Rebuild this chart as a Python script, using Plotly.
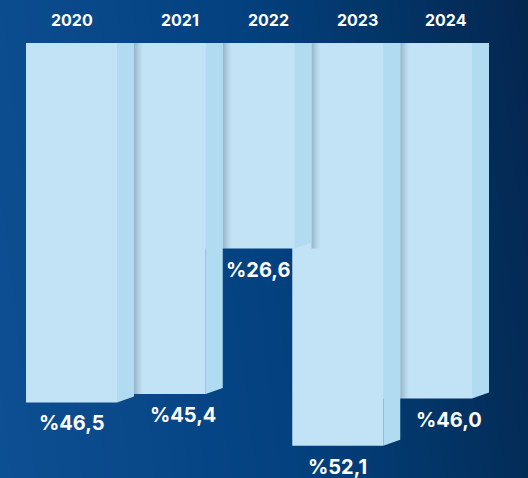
import numpy as np
import plotly.graph_objects as go

# ---- data ----
years = ["2020", "2021", "2022", "2023", "2024"]
values = [46.5, 45.4, 26.6, 52.1, 46.0]
value_labels = ["%46,5", "%45,4", "%26,6", "%52,1", "%46,0"]

# ---- layout scale (pixels per data unit) ----
W, H = 528, 478
PX_X = 88.75
PX_Y = 7.73
TOP = 43
x_range = [-71.5 / PX_X, -71.5 / PX_X + W / PX_X]
y_range = [(H - TOP) / PX_Y, -TOP / PX_Y]

front_w = 91 / PX_X
depth = 17 / PX_X
slant = 6 / PX_Y
shadow_w = 9 / PX_X

FRONT = "#c2e3f5"
SIDE = "#b0dbf1"
FONT = "Inter"

fig = go.Figure()

# background gradient
gx = np.linspace(x_range[0], x_range[1], 60)
gy = np.linspace(y_range[1], y_range[0], 20)
tx = (gx - x_range[0]) / (x_range[1] - x_range[0])
ty = (gy - y_range[1]) / (y_range[0] - y_range[1])
Z = tx[None, :] * 0.9 - ty[:, None] * 0.1 + 0.1
fig.add_trace(go.Heatmap(
    x=gx, y=gy, z=Z, zsmooth="best", showscale=False, hoverinfo="skip",
    zmin=0, zmax=1,
    colorscale=[[0, "#0d4f93"], [0.2, "#0a4a8b"], [0.5, "#034180"],
                [0.75, "#033567"], [1, "#04264f"]],
))

n = len(years)
centers = list(range(n))

def poly(xs, ys, color, opacity=1.0):
    fig.add_trace(go.Scatter(
        x=xs + [xs[0]], y=ys + [ys[0]], mode="lines", fill="toself",
        fillcolor=color, line=dict(width=0), opacity=opacity,
        hoverinfo="skip", showlegend=False))

# draw from last to first so earlier bars sit in front
for i in reversed(range(n)):
    c = centers[i]
    v = values[i]
    xl = c - front_w / 2
    xr = c + front_w / 2
    xs = xr + depth
    # shadow cast on the next bar
    if i < n - 1:
        h = min(v, values[i + 1])
        steps = 9
        for k in range(steps):
            a = 0.22 * (1 - k / steps) ** 1.5
            sx0 = xs + shadow_w * k / steps
            sx1 = xs + shadow_w * (k + 1) / steps
            poly([sx0, sx1, sx1, sx0], [0, 0, h, h], f"rgba(0,20,40,{a:.3f})")
    # front face
    poly([xl, xr, xr, xl], [0, 0, v, v], FRONT)
    # side face
    poly([xr, xs, xs, xr], [0, 0, v - slant, v], SIDE)

# labels
annotations = []
for i in range(n):
    c = centers[i]
    v = values[i]
    own_front_c = c
    own_side_end = c + front_w / 2 + depth
    if i > 0:
        prev_side_end = centers[i - 1] + front_w / 2 + depth
        top_x = prev_side_end + 0.52 * (own_side_end - prev_side_end)
        if values[i - 1] > v:
            if i < n - 1 and values[i + 1] > v:
                right = centers[i + 1] - front_w / 2
                bot_x = (prev_side_end + right) / 2
            else:
                bot_x = prev_side_end + 0.55 * (own_side_end - prev_side_end)
        else:
            bot_x = own_front_c
    else:
        top_x = own_front_c
        bot_x = own_front_c
    annotations.append(dict(
        x=top_x, y=-23 / PX_Y, xref="x", yref="y", text=f"<b>{years[i]}</b>",
        showarrow=False, font=dict(family=FONT, size=16, color="white"),
        xanchor="center", yanchor="middle"))
    annotations.append(dict(
        x=bot_x, y=v, xref="x", yref="y", text=f"<b>{value_labels[i]}</b>",
        showarrow=False, font=dict(family=FONT, size=20, color="white"),
        xanchor="center", yanchor="middle", yshift=-21))

fig.update_layout(
    width=W, height=H,
    margin=dict(l=0, r=0, t=0, b=0),
    paper_bgcolor="#033f7d",
    plot_bgcolor="rgba(0,0,0,0)",
    showlegend=False,
    xaxis=dict(range=x_range, visible=False, fixedrange=True),
    yaxis=dict(range=y_range, visible=False, fixedrange=True),
    annotations=annotations,
)

fig.write_html("out.html")
